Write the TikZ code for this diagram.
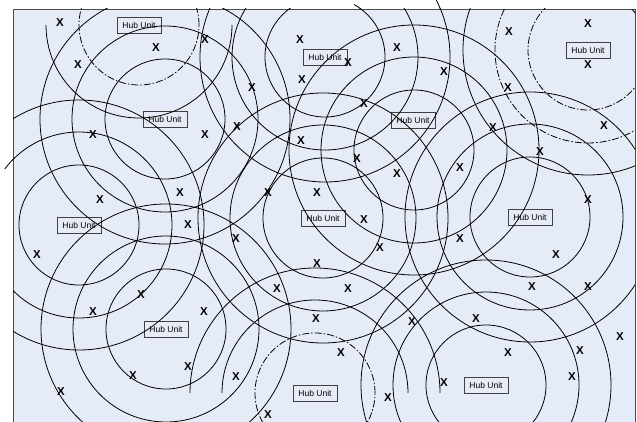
\documentclass[tikz,border=0pt]{standalone}
\usepackage{fontspec}
\setmainfont{Liberation Sans}
\usepackage{xcolor}
\usepackage{tikz}
\definecolor{paper}{RGB}{230,236,247}

\begin{document}
\begin{tikzpicture}[x=1pt,y=-1pt,
  hub/.style={draw=black!75,line width=0.8pt,minimum width=44pt,minimum height=16pt,inner sep=1pt,font=\fontsize{8.5}{9}\selectfont},
  xmark/.style={inner sep=0pt,font=\bfseries\fontsize{11.5}{11.5}\selectfont},
  ring/.style={line width=0.8pt},
  dashring/.style={line width=0.8pt,dash pattern=on 7pt off 2pt on 1.5pt off 2pt}]
  \useasboundingbox (0,0) rectangle (637,422);
  \draw[black!70,fill=paper,line width=0.8pt] (13,9) rectangle (635,440);
  % ring centres and labels
  \foreach \n/\x/\y/\lx/\ly in {1/139/25/139/25,2/325/57/325/57,3/588/50/588/50,4/165/119/165/119,5/414/150/413/120,6/79/225/79/225,7/323/218/323/218,8/530/217/530/217,9/166/329/166/329,10/315/393/315/393,11/486/385/486/385}{
    \coordinate (c\n) at (\x,\y);
    \node[hub] (hub\n) at (\lx,\ly) {Hub Unit};
  }
  \begin{scope}
    \clip (13,9) rectangle (635,440);
    \foreach \n/\sa/\sb in {2/ring/ring,3/dashring/dashring,4/ring/ring,5/ring/ring,6/ring/ring,7/ring/ring,8/ring/ring,9/ring/ring,11/ring/ring}{
      \draw[\sa] (c\n) circle (60pt);
      \draw[\sb] (c\n) circle (93pt);
      \draw[ring] (c\n) circle (125pt);
    }
    \draw[dashring] (c1) circle (60pt);
    \draw[ring] (c1) ++(180:93pt) arc[start angle=180,end angle=360,radius=93pt];
    \draw[dashring] (c10) circle (60pt);
    \foreach \r in {93,125}
      \draw[ring] (c10) ++(180:\r pt) arc[start angle=180,end angle=0,radius=\r pt];
  \end{scope}
  % short ends running past the frame
  \draw[ring] (c6) ++(135:93pt) arc[start angle=135,end angle=143,radius=93pt];
  \draw[ring] (c2) ++(53:60pt) arc[start angle=53,end angle=61,radius=60pt];
  \draw[ring] (c2) ++(22:125pt) arc[start angle=22,end angle=27,radius=125pt];
  \foreach \p [count=\i] in {(60,23),(156,48),(78,65),(205,40),(300,40),(348,63),(397,48),(302,80),(252,88),(364,104),(237,127),(205,135),(93,135),(301,141),(588,24),(588,65),(509,32),(444,72),(508,88),(493,128),(604,126),(100,200),(180,193),(188,225),(37,255),(357,159),(397,174),(268,193),(317,193),(364,220),(236,239),(380,248),(317,264),(460,168),(540,152),(588,200),(460,239),(556,255),(141,295),(93,312),(204,312),(188,367),(133,376),(61,392),(277,289),(348,289),(316,319),(412,322),(341,353),(236,377),(388,398),(268,415),(532,287),(588,287),(476,319),(620,337),(508,353),(580,351),(572,377),(444,383)}
    \node[xmark] (x\i) at \p {X};
\end{tikzpicture}
\end{document}
